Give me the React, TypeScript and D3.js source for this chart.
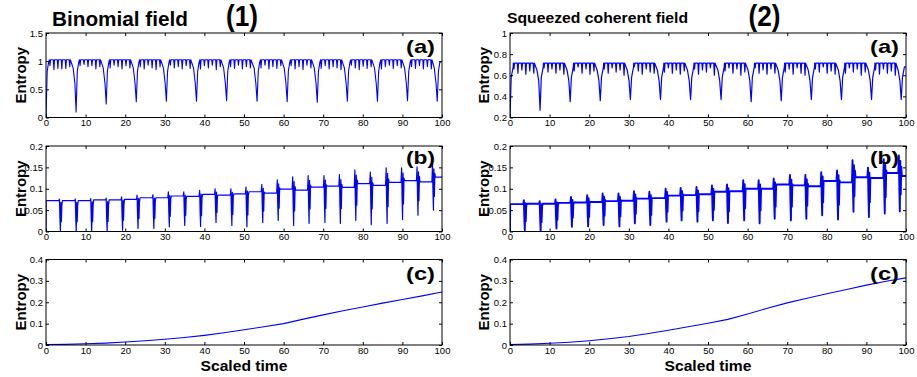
import { useEffect, useRef } from 'react';
import * as d3 from 'd3';

type Pt = [number, number];

// tick values
const xTicks = [0, 10, 20, 30, 40, 50, 60, 70, 80, 90, 100];
const yTicksA1 = [0, 0.5, 1, 1.5];
const yTicksA2 = [0.2, 0.4, 0.6, 0.8, 1];
const yTicksB = [0, 0.05, 0.1, 0.15, 0.2];
const yTicksC = [0, 0.1, 0.2, 0.3, 0.4];

// (a) big collapse dips: times and minimum entropy
const dipTimes = [7.6, 15.2, 22.8, 30.4, 38.0, 45.6, 53.3, 60.9, 68.5, 76.1, 83.7, 91.3, 98.8];
const dipMinA1 = [0.10, 0.24, 0.28, 0.29, 0.29, 0.3, 0.29, 0.28, 0.27, 0.29, 0.29, 0.3, 0.29];
const dipMinA2 = [0.27, 0.35, 0.36, 0.37, 0.37, 0.37, 0.37, 0.35, 0.36, 0.37, 0.37, 0.37, 0.37];

// small ripples between the big dips (one row per period)
const rippleA1 = [
  [0.92, 0.85, 0.87, 0.86, 0.87, 0.9],
  [0.92, 0.94, 0.9, 0.92, 0.86, 0.9],
  [0.88, 0.93, 0.9, 0.86, 0.92, 0.88],
  [0.9, 0.86, 0.93, 0.88, 0.85, 0.9],
  [0.93, 0.88, 0.9, 0.86, 0.92, 0.87],
  [0.86, 0.92, 0.88, 0.93, 0.85, 0.9],
  [0.9, 0.87, 0.93, 0.86, 0.9, 0.88],
  [0.88, 0.93, 0.86, 0.9, 0.87, 0.92],
  [0.92, 0.86, 0.9, 0.85, 0.93, 0.88],
  [0.87, 0.92, 0.86, 0.9, 0.88, 0.85],
  [0.93, 0.88, 0.85, 0.91, 0.87, 0.9],
  [0.86, 0.9, 0.93, 0.87, 0.92, 0.88],
  [0.9, 0.87, 0.92, 0.86, 0.9, 0.86],
];
const rippleA2 = [
  [0.66, 0.62, 0.65, 0.61, 0.64, 0.62],
  [0.67, 0.63, 0.66, 0.62, 0.65, 0.61],
  [0.64, 0.68, 0.62, 0.66, 0.61, 0.64],
  [0.66, 0.62, 0.67, 0.63, 0.65, 0.6],
  [0.68, 0.64, 0.61, 0.66, 0.63, 0.62],
  [0.63, 0.67, 0.62, 0.65, 0.61, 0.64],
  [0.66, 0.61, 0.65, 0.63, 0.67, 0.6],
  [0.64, 0.67, 0.62, 0.66, 0.6, 0.63],
  [0.67, 0.62, 0.65, 0.61, 0.66, 0.62],
  [0.63, 0.66, 0.61, 0.67, 0.62, 0.6],
  [0.66, 0.63, 0.68, 0.62, 0.64, 0.61],
  [0.62, 0.67, 0.63, 0.66, 0.6, 0.63],
  [0.65, 0.61, 0.66, 0.62, 0.64, 0.6],
];
// shape around each dip: [offset, value]
const recoverA1: Pt[] = [[0.3, 0.82], [0.65, 0.98]];
const approachA1: Pt[] = [[-0.75, 0.88], [-0.3, 0.6]];
const recoverA2: Pt[] = [[0.3, 0.58], [0.8, 0.68]];
const approachA2: Pt[] = [[-0.8, 0.65], [-0.35, 0.55]];

// (b) spike bursts
const spikeTimesB1 = [3.7, 7.7, 11.6, 15.5, 19.4, 23.3, 27.3, 31.2, 35.1, 39.1, 43.0, 47.0, 50.8, 54.8, 58.7, 62.6, 66.5, 70.5, 74.4, 78.3, 82.2, 86.2, 90.1, 94.0, 97.9];
const spikeTopB1 = [0.076, 0.076, 0.077, 0.078, 0.081, 0.085, 0.086, 0.093, 0.093, 0.096, 0.1, 0.1, 0.104, 0.11, 0.121, 0.128, 0.131, 0.131, 0.133, 0.144, 0.139, 0.149, 0.149, 0.151, 0.157];
const spikeBotB1 = [0, 0, 0, 0, 0.003, 0.007, 0.007, 0.011, 0.014, 0.012, 0.021, 0.014, 0.011, 0.021, 0.026, 0.014, 0.019, 0.021, 0.019, 0.026, 0.016, 0.019, 0.028, 0.038, 0.05];
const levelB1 = [0.072, 0.072, 0.072, 0.074, 0.074, 0.075, 0.079, 0.079, 0.083, 0.082, 0.087, 0.085, 0.088, 0.093, 0.09, 0.099, 0.097, 0.104, 0.106, 0.103, 0.112, 0.108, 0.115, 0.119, 0.116, 0.127];

const spikeTimesB2 = [3.8, 7.8, 11.8, 15.7, 19.8, 23.7, 27.7, 31.6, 35.5, 39.6, 43.4, 47.4, 51.3, 55.1, 59.2, 63.1, 66.9, 71.0, 74.9, 78.9, 82.9, 86.8, 90.7, 94.7, 98.5];
const spikeTopB2 = [0.073, 0.071, 0.075, 0.081, 0.085, 0.089, 0.089, 0.094, 0.093, 0.1, 0.102, 0.104, 0.108, 0.11, 0.12, 0.12, 0.124, 0.132, 0.132, 0.139, 0.143, 0.167, 0.149, 0.169, 0.178];
const spikeBotB2 = [0.003, 0.001, 0.007, 0.011, 0.012, 0.015, 0.012, 0.019, 0.015, 0.023, 0.026, 0.023, 0.026, 0.02, 0.026, 0.019, 0.03, 0.026, 0.03, 0.038, 0.028, 0.046, 0.034, 0.042, 0.047];
const levelB2 = [0.064, 0.065, 0.065, 0.067, 0.068, 0.069, 0.071, 0.072, 0.077, 0.078, 0.084, 0.085, 0.087, 0.093, 0.094, 0.1, 0.1, 0.11, 0.108, 0.106, 0.118, 0.115, 0.127, 0.125, 0.137, 0.13];
// burst profile: [offset, fraction between bottom (0) and top (1)]
const spikeShape: Pt[] = [[-0.3, 1], [-0.18, 0.4], [-0.06, 0], [0.06, 0.9], [0.18, 0.3], [0.3, 0.8]];

// (c) smooth entropy growth
const timeC1 = [0, 5, 10, 15, 20, 25, 30, 35, 40, 45, 50, 55, 60, 65, 70, 75, 80, 85, 90, 95, 100];
const valueC1 = [0.002, 0.003, 0.006, 0.009, 0.014, 0.02, 0.027, 0.035, 0.045, 0.057, 0.071, 0.085, 0.1, 0.121, 0.141, 0.16, 0.178, 0.196, 0.213, 0.23, 0.248];
const timeC2 = [0, 5, 10, 15, 20, 25, 30, 35, 40, 45, 50, 55, 60, 65, 70, 75, 80, 85, 90, 95, 100];
const valueC2 = [0.002, 0.004, 0.008, 0.013, 0.02, 0.029, 0.04, 0.054, 0.069, 0.085, 0.102, 0.12, 0.145, 0.172, 0.197, 0.219, 0.24, 0.26, 0.28, 0.298, 0.314];

function buildDips(mins: number[], ripples: number[][], base: number, start: number, end: number, recover: Pt[], approach: Pt[]): Pt[] {
  const pts: Pt[] = [[0, start]];
  let prev = 0;
  dipTimes.forEach((t, k) => {
    recover.forEach(([dt, v]) => pts.push([prev + dt, v]));
    ripples[k].forEach((v, j) => {
      const tr = prev + 1.0 + j;
      pts.push([tr - 0.15, base], [tr, v], [tr + 0.15, base]);
    });
    approach.forEach(([dt, v]) => pts.push([t + dt, v]));
    pts.push([t, mins[k]]);
    prev = t;
  });
  recover.forEach(([dt, v]) => pts.push([prev + dt, v]));
  pts.push([100, end]);
  return pts;
}

function buildSpikes(times: number[], tops: number[], bots: number[], levels: number[]): Pt[] {
  const pts: Pt[] = [[0, 0], [0.05, levels[0]]];
  times.forEach((t, k) => {
    pts.push([t - 0.45, levels[k]]);
    spikeShape.forEach(([dt, f]) => pts.push([t + dt, bots[k] + f * (tops[k] - bots[k])]));
    pts.push([t + 0.45, levels[k + 1]]);
  });
  pts.push([100, levels[levels.length - 1]]);
  return pts;
}

const cols = [
  { x0: 46, x1: 442, labelX: 25.5 },
  { x0: 510, x1: 906, labelX: 489 },
];
const rows = [
  { y0: 33, y1: 117.5, tagY: 53 },
  { y0: 146, y1: 231.5, tagY: 164 },
  { y0: 259.5, y1: 345, tagY: 279.5 },
];

const FONT = "'Liberation Sans', Arial, Helvetica, sans-serif";

export default function App() {
  const svgRef = useRef<SVGSVGElement>(null);

  useEffect(() => {
    const svg = d3.select(svgRef.current);
    svg.selectAll('*').remove();

    const panels = [
      { c: 0, r: 0, dom: [0, 1.5], ticks: yTicksA1, tag: '(a)', sw: 1.1, data: buildDips(dipMinA1, rippleA1, 1.025, 0, 1.0, recoverA1, approachA1) },
      { c: 1, r: 0, dom: [0.2, 1], ticks: yTicksA2, tag: '(a)', sw: 1.2, data: buildDips(dipMinA2, rippleA2, 0.715, 0.2, 0.68, recoverA2, approachA2) },
      { c: 0, r: 1, dom: [0, 0.2], ticks: yTicksB, tag: '(b)', sw: 1.2, data: buildSpikes(spikeTimesB1, spikeTopB1, spikeBotB1, levelB1) },
      { c: 1, r: 1, dom: [0, 0.2], ticks: yTicksB, tag: '(b)', sw: 1.9, data: buildSpikes(spikeTimesB2, spikeTopB2, spikeBotB2, levelB2) },
      { c: 0, r: 2, dom: [0, 0.4], ticks: yTicksC, tag: '(c)', sw: 1.1, data: timeC1.map((t, i) => [t, valueC1[i]] as Pt) },
      { c: 1, r: 2, dom: [0, 0.4], ticks: yTicksC, tag: '(c)', sw: 1.1, data: timeC2.map((t, i) => [t, valueC2[i]] as Pt) },
    ];

    panels.forEach((p, i) => {
      const col = cols[p.c];
      const row = rows[p.r];
      const x = d3.scaleLinear().domain([0, 100]).range([col.x0, col.x1]);
      const y = d3.scaleLinear().domain(p.dom).range([row.y1, row.y0]);
      const g = svg.append('g');

      g.append('clipPath').attr('id', `clip${i}`)
        .append('rect').attr('x', col.x0).attr('y', row.y0)
        .attr('width', col.x1 - col.x0).attr('height', row.y1 - row.y0);

      const line = d3.line<Pt>().x(d => x(d[0])).y(d => y(d[1]));
      g.append('path')
        .datum(p.data)
        .attr('clip-path', `url(#clip${i})`)
        .attr('d', line)
        .attr('fill', 'none')
        .attr('stroke', '#0000ff')
        .attr('stroke-width', p.sw)
        .attr('stroke-linejoin', 'round');

      // axes with inward ticks on all four sides
      const fmt = (d: d3.NumberValue) => String(+d);
      g.append('g').attr('transform', `translate(0,${row.y1})`)
        .call(d3.axisBottom(x).tickValues(xTicks).tickSizeInner(-3).tickSizeOuter(0).tickPadding(1.8).tickFormat(fmt));
      g.append('g').attr('transform', `translate(0,${row.y0})`)
        .call(d3.axisTop(x).tickValues(xTicks).tickSizeInner(-3).tickSizeOuter(0).tickFormat(() => ''));
      g.append('g').attr('transform', `translate(${col.x0},0)`)
        .call(d3.axisLeft(y).tickValues(p.ticks).tickSizeInner(-3).tickSizeOuter(0).tickPadding(3).tickFormat(fmt));
      g.append('g').attr('transform', `translate(${col.x1},0)`)
        .call(d3.axisRight(y).tickValues(p.ticks).tickSizeInner(-3).tickSizeOuter(0).tickFormat(() => ''));

      g.selectAll('.domain').remove();
      g.selectAll('.tick line').attr('stroke', '#000');
      g.selectAll('.tick text')
        .attr('fill', '#000')
        .style('font-family', FONT)
        .style('font-size', '9.5px');

      g.append('rect')
        .attr('x', col.x0).attr('y', row.y0)
        .attr('width', col.x1 - col.x0).attr('height', row.y1 - row.y0)
        .attr('fill', 'none').attr('stroke', '#000').attr('stroke-width', 1);

      g.append('text')
        .attr('transform', `translate(${col.labelX},${(row.y0 + row.y1) / 2}) rotate(-90)`)
        .attr('text-anchor', 'middle')
        .style('font-family', FONT).style('font-size', '15px').style('font-weight', 'bold')
        .text('Entropy');

      g.append('text')
        .attr('x', col.x1 - 36).attr('y', row.tagY)
        .attr('textLength', 29).attr('lengthAdjust', 'spacingAndGlyphs')
        .style('font-family', FONT).style('font-size', '19px').style('font-weight', 'bold')
        .text(p.tag);

      if (p.r === 2) {
        g.append('text')
          .attr('x', (col.x0 + col.x1) / 2 - 43.5).attr('y', 370.5)
          .attr('textLength', 87).attr('lengthAdjust', 'spacingAndGlyphs')
          .style('font-family', FONT).style('font-size', '15px').style('font-weight', 'bold')
          .text('Scaled time');
      }
    });

    const titles = [
      { text: 'Binomial field', x: 52, y: 25.5, size: 20.5, len: 136 },
      { text: '(1)', x: 226, y: 25.6, size: 29, len: 32 },
      { text: 'Squeezed coherent field', x: 507, y: 22.5, size: 14.5, len: 181 },
      { text: '(2)', x: 748.5, y: 25.6, size: 29, len: 32 },
    ];
    titles.forEach(t => {
      svg.append('text')
        .attr('x', t.x).attr('y', t.y)
        .attr('textLength', t.len).attr('lengthAdjust', 'spacingAndGlyphs')
        .style('font-family', FONT).style('font-size', `${t.size}px`).style('font-weight', 'bold')
        .text(t.text);
    });
  }, []);

  return (
    <svg
      ref={svgRef}
      width={917}
      height={377}
      style={{ position: 'absolute', left: 0, top: 0, background: '#fff' }}
    />
  );
}
